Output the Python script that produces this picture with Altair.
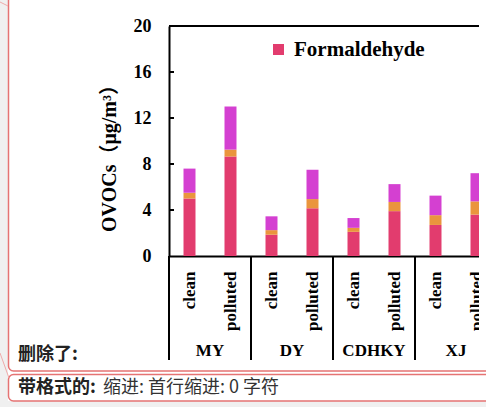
import altair as alt
import pandas as pd

# ---- data -------------------------------------------------------------
sites = ["MY", "DY", "CDHKY", "XJ"]
conditions = ["clean", "polluted"]
components = ["Formaldehyde", "Acetaldehyde", "Acetone"]
colors = ["#E23C6E", "#EA953D", "#D440D1"]

# concentrations in µg/m³, ordered MY clean, MY polluted, DY clean, ...
formaldehyde = [5.0, 8.65, 1.85, 4.15, 2.1, 3.9, 2.7, 3.6]
acetaldehyde = [0.5, 0.6, 0.4, 0.8, 0.35, 0.8, 0.85, 1.15]
acetone = [2.1, 3.75, 1.2, 2.55, 0.85, 1.55, 1.7, 2.45]
y_ticks = [0, 4, 8, 12, 16, 20]
inner_ticks = [4, 8, 12, 16]

keys = [f"{s}|{c}" for s in sites for c in conditions]
series = [formaldehyde, acetaldehyde, acetone]

rows = []
for ci, (comp, vals) in enumerate(zip(components, series)):
    for k, v in zip(keys, vals):
        rows.append({"key": k, "component": comp, "value": v, "order": ci})
df = pd.DataFrame(rows)

sep_df = pd.DataFrame({"key": [f"{s}|clean" for s in sites]})
grp_df = pd.DataFrame({"key": [f"{s}|clean" for s in sites], "site": sites})
tick_df = pd.DataFrame({"value": inner_ticks})
top_df = pd.DataFrame({"value": [20]})
one = pd.DataFrame({"a": [0]})

SERIF = "'Liberation Serif', 'Times New Roman', 'Noto Sans CJK SC', serif"
CJK = "'Noto Sans CJK SC', sans-serif"
W, H = 310, 230

x_scale = alt.Scale(domain=keys, range=[0, 328], paddingInner=0, paddingOuter=0)
y_scale = alt.Scale(domain=[0, 20], nice=False)

x_axis = alt.Axis(
    title=None, labelExpr="split(datum.label, '|')[1]",
    labelAngle=270, labelAlign="right", labelBaseline="middle",
    labelPadding=15, ticks=False, labelOverlap=False,
    domainColor="black", domainWidth=2,
    labelFont=SERIF, labelFontSize=17, labelFontWeight="bold",
    labelColor="black",
)
y_axis = alt.Axis(
    values=y_ticks, title="OVOCs（μg/m³）", grid=False, ticks=False,
    labelPadding=18, domainColor="black", domainWidth=2,
    labelFont=SERIF, labelFontSize=18, labelFontWeight="bold",
    labelColor="black",
    titleFont=SERIF, titleFontSize=20, titleFontWeight="bold",
    titleColor="black", titleAngle=270, titleAlign="center",
    titleBaseline="middle", titleX=-60, titleY=127,
)

X = lambda **kw: alt.X("key:N", scale=x_scale, sort=keys, axis=x_axis, **kw)
Y = lambda **kw: alt.Y("value:Q", scale=y_scale, axis=y_axis, **kw)

# ---- stacked bars -----------------------------------------------------
bars = alt.Chart(df).mark_bar(size=12, clip=True).encode(
    x=X(),
    y=Y(stack="zero"),
    color=alt.Color(
        "component:N", scale=alt.Scale(domain=components, range=colors),
        legend=alt.Legend(
            values=["Formaldehyde"], orient="none", legendX=99, legendY=13,
            title=None, symbolType="square", symbolSize=121,
            symbolStrokeWidth=0, labelOffset=5, padding=0,
            labelFont=SERIF, labelFontSize=21, labelFontWeight="bold",
            labelColor="black",
        ),
    ),
    order=alt.Order("order:Q"),
)

# inward ticks on the value axis
ticks = alt.Chart(tick_df).mark_rule(color="black", strokeWidth=2).encode(
    y=Y(), x=alt.value(0), x2=alt.value(5),
)

# top frame line
top = alt.Chart(top_df).mark_rule(color="black", strokeWidth=2).encode(y=Y())

# group separators below the category axis
seps = alt.Chart(sep_df).mark_rule(color="black", strokeWidth=2).encode(
    x=X(bandPosition=0),
    y=alt.value(H), y2=alt.value(H + 104),
)

# site names
groups = alt.Chart(grp_df).mark_text(
    font=SERIF, fontSize=17, fontWeight="bold", color="black",
    baseline="middle",
).encode(
    x=X(bandPosition=1),
    y=alt.value(H + 95),
    text="site:N",
)

# ---- page surroundings (revision balloons) ---------------------------
def rect(x, x2, y, y2, **kw):
    return alt.Chart(one).mark_rect(**kw).encode(
        x=alt.value(x), x2=alt.value(x2), y=alt.value(y), y2=alt.value(y2)
    )

left_strip = rect(-169, -161, -26, 381, color="#f0f0f0")
bottom_strip = rect(-169, 317, 375, 381, color="#f0f0f0")
mask = rect(310, 317, -26, 342, color="white")
box1 = rect(-160.5, 330, -60, 345, fillOpacity=0, stroke="#e57373",
            strokeWidth=1.5, cornerRadius=5)
box2 = rect(-160.5, 330, 348.5, 375, fillOpacity=0, stroke="#e57373",
            strokeWidth=1.5, cornerRadius=5)

link1 = alt.Chart(one).mark_rule(color="#eeaaaa", strokeWidth=1).encode(
    x=alt.value(-169), y=alt.value(-24), x2=alt.value(-161), y2=alt.value(-20)
)
link2 = alt.Chart(one).mark_rule(color="#eeaaaa", strokeWidth=1).encode(
    x=alt.value(-169), y=alt.value(327), x2=alt.value(-160), y2=alt.value(352)
)

t_deleted = alt.Chart(one).mark_text(
    text="删除了:", font=CJK, fontSize=18, fontWeight="bold", color="#222222",
    align="left", baseline="middle",
).encode(x=alt.value(-151), y=alt.value(329))

t_fmt_bold = alt.Chart(one).mark_text(
    text="带格式的:", font=CJK, fontSize=18, fontWeight="bold", color="#222222",
    align="left", baseline="middle",
).encode(x=alt.value(-151), y=alt.value(362))

t_fmt = alt.Chart(one).mark_text(
    text="缩进: 首行缩进: 0 字符", font=CJK, fontSize=18, color="#333333",
    align="left", baseline="middle",
).encode(x=alt.value(-66), y=alt.value(362))

chart = alt.layer(
    left_strip, bottom_strip, bars, ticks, top, seps, groups, mask,
    box1, box2, link1, link2, t_deleted, t_fmt_bold, t_fmt,
).properties(
    width=W, height=H,
    autosize=alt.AutoSizeParams(type="none"),
    padding={"left": 169, "top": 26, "right": 7, "bottom": 151},
    background="white",
).configure_view(stroke=None)

chart.save("out.html", embed_options={"renderer": "svg", "actions": False})
